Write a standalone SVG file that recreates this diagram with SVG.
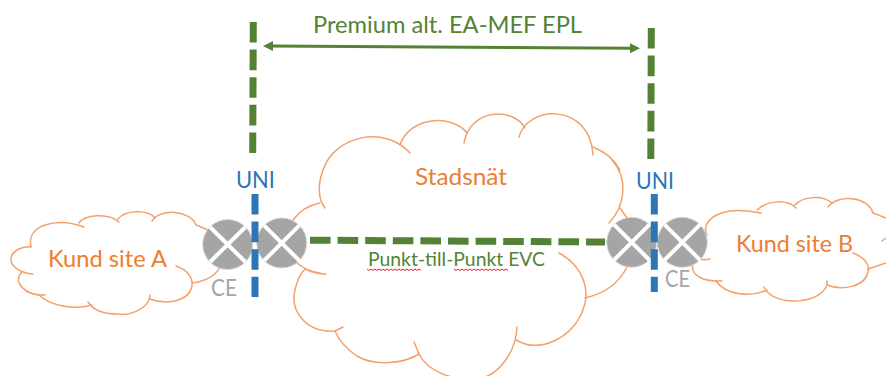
<svg xmlns="http://www.w3.org/2000/svg" width="886" height="376" viewBox="0 0 886 376">
<style>
text{font-family:"Lato","Open Sans","Liberation Sans",sans-serif}
.cloud{fill:none;stroke:#f4a06a;stroke-width:1.5;stroke-linecap:round}
.orange{fill:#ed7d31;font-size:23px}
.green{fill:#548235}
.uni{fill:#2e75b6;font-size:23px}
.ce{fill:#a5a5a5;font-size:23px}
.gd{fill:none;stroke:#548235;stroke-width:7;stroke-dasharray:20.6 7}
.bd{fill:none;stroke:#2e75b6;stroke-width:7;stroke-dasharray:20.6 7}
.disc{fill:#a5a5a5;stroke:#d9d9d9;stroke-width:1}
.x{stroke:#fff;stroke-width:4;fill:none}
.wave{fill:none;stroke:#e8202a;stroke-width:1}
</style>
<defs>
<marker id="ah" viewBox="0 0 10 10" refX="9" refY="5" markerWidth="11" markerHeight="10" markerUnits="userSpaceOnUse" orient="auto-start-reverse"><path d="M0 0L10 5L0 10Z" fill="#548235"/></marker>
</defs>
<g id="cloud-a" class="cloud">
<path d="M33 274C20 273 10 266 11 258C12 251 22 246 31 247"/>
<path d="M31 247C26 225 56 217 84 227"/>
<path d="M79 223C84 215 108 212 119 222"/>
<path d="M118 219C125 210 148 209 155 218"/>
<path d="M152 221C160 208 190 210 196 225L208 230"/>
<path d="M220 267C215 277 205 281 193 283"/>
<path d="M176 266C188 270 193 278 192 286C189 302 165 305 150 299"/>
<path d="M150 295C149 310 128 316 117 314C104 314 93 310 88 302"/>
<path d="M92 305C75 310 50 306 39 295"/>
<path d="M45 295C25 296 12 282 22 272"/>
</g>
<g id="cloud-stadsnat" class="cloud">
<path d="M323 170C318 184 317 197 325 208"/>
<path d="M323 170C335 135 385 125 410 153"/>
<path d="M400 145C410 116 452 114 467 133"/>
<path d="M464 143C470 108 513 107 525 128"/>
<path d="M519 137C527 105 590 102 593 155"/>
<path d="M593 147C605 152 615 160 620 170"/>
<path d="M612 160C628 178 626 205 609 223"/>
<path d="M620 208L627 218"/>
<path d="M627 267C618 285 603 294 585 298"/>
<path d="M559 253C583 266 591 290 583 310C572 338 540 354 516 340"/>
<path d="M517 327C516 352 498 378 475 379C452 380 428 372 419 354"/>
<path d="M414 342L419 354C405 363 375 367 357 356C348 350 340 343 335 331"/>
<path d="M343 327L335 331C305 333 290 310 295 290C297 280 300 274 305 269"/>
<path d="M305 269C311 272 318 274 326 274"/>
<path d="M293 220C300 210 310 205 320 203"/>
<path d="M297 263C304 269 312 272 320 273"/>
</g>
<g id="cloud-b" class="cloud">
<path d="M710 259C705 260 702 260 700 259"/>
<path d="M707 235C700 222 718 204 761 213"/>
<path d="M757 210C768 200 787 199 796 208"/>
<path d="M795 205C803 196 823 195 832 203"/>
<path d="M828 207C838 194 868 196 873 213L886 218"/>
<path d="M882 241L886 238"/>
<path d="M868 269L886 263"/>
<path d="M853 253C866 258 870 266 868 272C865 287 842 291 827 285L827 281"/>
<path d="M827 285C822 298 805 301 793 301C780 301 768 296 764 287"/>
<path d="M767 290C752 297 726 296 716 281"/>
<path d="M722 281C705 282 689 276 693 263L700 258"/>
</g>
<g id="connectors">
<path class="gd" d="M253.3 22L252.7 153"/>
<path class="gd" d="M651.3 28L650.8 159"/>
<path d="M270 46.1L633 48.2" fill="none" stroke="#548235" stroke-width="3"/>
<path d="M264 46L639 48.3" fill="none" stroke="none" marker-start="url(#ah)" marker-end="url(#ah)"/>
<path class="gd" d="M310 240.2L605 242"/>
</g>
<g id="ce-a1"><circle class="disc" cx="227.7" cy="244.5" r="25"/><path class="x" d="M210 227L245.4 262M245.4 227L210 262"/></g>
<g id="ce-a2"><circle class="disc" cx="281.7" cy="243" r="25"/><path class="x" d="M264 225.3L299.4 260.7M299.4 225.3L264 260.7"/></g>
<g id="ce-b1"><circle class="disc" cx="631.7" cy="242.3" r="25"/><path class="x" d="M614 224.6L649.4 260M649.4 224.6L614 260"/></g>
<g id="ce-b2"><circle class="disc" cx="682.3" cy="242.3" r="25"/><path class="x" d="M664.6 224.6L700 260M700 224.6L664.6 260"/></g>
<g id="uni-lines">
<path class="bd" d="M255 194V297"/>
<path class="bd" d="M654.3 194V292"/>
</g>
<g id="labels">
<text class="green" x="313" y="33" font-size="23" textLength="269" lengthAdjust="spacingAndGlyphs">Premium alt. EA-MEF EPL</text>
<text class="orange" x="415" y="185" textLength="92" lengthAdjust="spacingAndGlyphs">Stadsnät</text>
<text class="orange" x="48" y="267" textLength="119" lengthAdjust="spacingAndGlyphs">Kund site A</text>
<text class="orange" x="736" y="252" textLength="117" lengthAdjust="spacingAndGlyphs">Kund site B</text>
<text class="uni" x="236" y="188" textLength="39" lengthAdjust="spacingAndGlyphs">UNI</text>
<text class="uni" x="636" y="189" textLength="38" lengthAdjust="spacingAndGlyphs">UNI</text>
<text class="ce" x="211" y="296" textLength="26" lengthAdjust="spacingAndGlyphs">CE</text>
<text class="ce" x="665" y="287" textLength="25" lengthAdjust="spacingAndGlyphs">CE</text>
<text class="green" x="368" y="266" font-size="19" textLength="177" lengthAdjust="spacingAndGlyphs">Punkt-till-Punkt EVC</text>
<path class="wave" d="M367 269l2 1.5 2-1.5 2 1.5 2-1.5 2 1.5 2-1.5 2 1.5 2-1.5 2 1.5 2-1.5 2 1.5 2-1.5 2 1.5 2-1.5 2 1.5 2-1.5 2 1.5 2-1.5 2 1.5 2-1.5 2 1.5 2-1.5 2 1.5 2-1.5 2 1.5 2-1.5 2 1.5"/>
<path class="wave" d="M454 269l2 1.5 2-1.5 2 1.5 2-1.5 2 1.5 2-1.5 2 1.5 2-1.5 2 1.5 2-1.5 2 1.5 2-1.5 2 1.5 2-1.5 2 1.5 2-1.5 2 1.5 2-1.5 2 1.5 2-1.5 2 1.5 2-1.5 2 1.5 2-1.5 2 1.5 2-1.5 2 1.5"/>
</g>
</svg>
